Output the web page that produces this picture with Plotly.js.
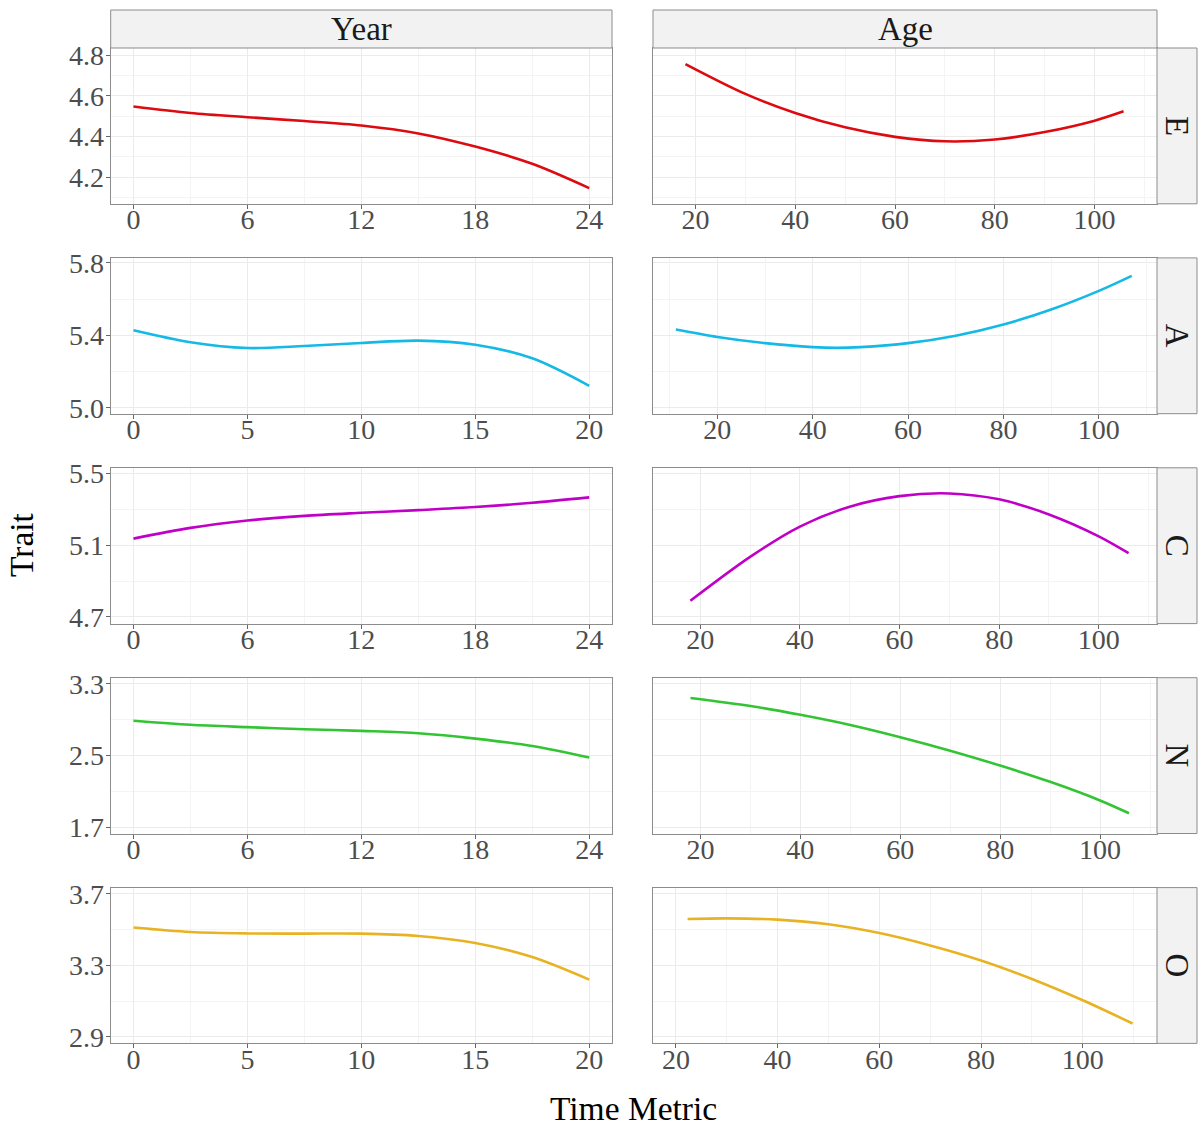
<!DOCTYPE html>
<html>
<head>
<meta charset="utf-8">
<script src="https://cdn.plot.ly/plotly-3.0.1.min.js"></script>
<style>
  html, body { margin: 0; padding: 0; background: #fff; }
  #chart { width: 1200px; height: 1133px; }
</style>
</head>
<body>
<div id="chart"></div>
<script>
// traits in row order, one row per trait
var traits = ["E", "A", "C", "N", "O"];
var columns = ["Year", "Age"];
var colors = ["#dd0a10", "#14b9e6", "#c000c8", "#33c433", "#e8b322"];

// Year column
var yearE_x = [0, 3, 6, 9, 12, 15, 18, 21, 24];
var yearE_y = [4.548, 4.516, 4.495, 4.476, 4.454, 4.415, 4.350, 4.265, 4.145];
var yearA_x = [0, 2.5, 5, 7.5, 10, 12.5, 15, 17.5, 20];
var yearA_y = [5.428, 5.362, 5.330, 5.341, 5.358, 5.371, 5.348, 5.273, 5.121];
var yearC_x = [0, 3, 6, 9, 12, 15, 18, 21, 24];
var yearC_y = [5.137, 5.197, 5.238, 5.264, 5.281, 5.296, 5.313, 5.337, 5.367];
var yearN_x = [0, 3, 6, 9, 12, 15, 18, 21, 24];
var yearN_y = [2.888, 2.843, 2.817, 2.794, 2.775, 2.749, 2.689, 2.607, 2.479];
var yearO_x = [0, 2.5, 5, 7.5, 10, 12.5, 15, 17.5, 20];
var yearO_y = [3.511, 3.486, 3.478, 3.477, 3.477, 3.464, 3.425, 3.346, 3.220];

// Age column
var ageE_x = [18, 30, 40, 50, 60, 70, 80, 90, 100, 105.8];
var ageE_y = [4.757, 4.610, 4.516, 4.445, 4.398, 4.376, 4.385, 4.422, 4.478, 4.524];
var ageA_x = [11.3, 20, 30, 40, 45, 50, 60, 70, 80, 90, 100, 106.9];
var ageA_y = [5.432, 5.391, 5.357, 5.335, 5.331, 5.335, 5.357, 5.398, 5.460, 5.543, 5.646, 5.729];
var ageC_x = [18, 30, 40, 50, 60, 70, 80, 90, 100, 106];
var ageC_y = [4.790, 5.035, 5.204, 5.315, 5.374, 5.389, 5.356, 5.272, 5.150, 5.056];
var ageN_x = [18, 30, 40, 50, 60, 70, 80, 90, 100, 105.8];
var ageN_y = [3.142, 3.052, 2.954, 2.841, 2.705, 2.555, 2.389, 2.208, 2.001, 1.858];
var ageO_x = [22.3, 30, 40, 50, 60, 70, 80, 90, 100, 109.8];
var ageO_y = [3.559, 3.562, 3.555, 3.529, 3.480, 3.411, 3.327, 3.224, 3.105, 2.975];

var yearX = [yearE_x, yearA_x, yearC_x, yearN_x, yearO_x];
var yearY = [yearE_y, yearA_y, yearC_y, yearN_y, yearO_y];
var ageX = [ageE_x, ageA_x, ageC_x, ageN_x, ageO_x];
var ageY = [ageE_y, ageA_y, ageC_y, ageN_y, ageO_y];

// axis settings per row
var yRanges = [[4.068, 4.836], [4.967, 5.828], [4.663, 5.532], [1.633, 3.367], [2.864, 3.734]];
var yTick0 = [4.2, 5.0, 4.7, 1.7, 2.9];
var yDtick = [0.2, 0.4, 0.4, 0.8, 0.4];
var yearRanges = [[-1.2, 25.2], [-1, 21], [-1.2, 25.2], [-1.2, 25.2], [-1, 21]];
var yearDtick = [6, 5, 6, 6, 5];
var ageRanges = [[11.5, 112.5], [6.5, 112.2], [10.5, 111.7], [10.5, 111.4], [15.5, 114.6]];

var W = 1200, H = 1133;
var colPx = [[110.7, 612], [653, 1157]];
function rowPx(i) { var t = 48 + i * 209.9; return [t, t + 155.8]; }

var serif = "Liberation Serif, Times New Roman, serif";
var gridMajor = "#ebebeb", gridMinor = "#f4f4f4", border = "#8c8c8c";
var tickFont = { family: serif, size: 28, color: "#4d4d4d" };

var data = [];
var layout = {
  width: W, height: H,
  margin: { l: 0, r: 0, t: 0, b: 0 },
  paper_bgcolor: "#fff", plot_bgcolor: "#fff",
  showlegend: false,
  shapes: [], annotations: []
};

function baseAxis() {
  return {
    showline: true, mirror: true, linecolor: border, linewidth: 1,
    showgrid: true, gridcolor: gridMajor, gridwidth: 1,
    zeroline: false, ticks: "outside", ticklen: 4, tickcolor: "#666",
    tickfont: tickFont, fixedrange: true
  };
}

for (var i = 0; i < traits.length; i++) {
  var rp = rowPx(i);
  var yd = [1 - rp[1] / H, 1 - rp[0] / H];
  for (var c = 0; c < 2; c++) {
    var n = i * 2 + c + 1;
    var xs = c === 0 ? yearX[i] : ageX[i];
    var ys = c === 0 ? yearY[i] : ageY[i];
    data.push({
      type: "scatter", mode: "lines", x: xs, y: ys,
      xaxis: "x" + n, yaxis: "y" + n,
      line: { color: colors[i], width: 2.6, shape: "spline", smoothing: 0.9 },
      hoverinfo: "x+y"
    });

    var xa = baseAxis();
    xa.domain = [colPx[c][0] / W, colPx[c][1] / W];
    xa.anchor = "y" + n;
    xa.ticklabelstandoff = -13;
    if (c === 0) {
      xa.range = yearRanges[i];
      xa.tick0 = 0; xa.dtick = yearDtick[i];
      xa.minor = { tick0: 0, dtick: yearDtick[i] / 2, showgrid: true, gridcolor: gridMinor, ticks: "" };
    } else {
      xa.range = ageRanges[i];
      xa.tick0 = 0; xa.dtick = 20;
      xa.minor = { tick0: 0, dtick: 10, showgrid: true, gridcolor: gridMinor, ticks: "" };
    }

    var ya = baseAxis();
    ya.domain = yd;
    ya.anchor = "x" + n;
    ya.range = yRanges[i];
    ya.tick0 = yTick0[i]; ya.dtick = yDtick[i];
    ya.tickformat = ".1f";
    ya.ticklabelstandoff = -4;
    ya.minor = { tick0: yTick0[i], dtick: yDtick[i] / 2, showgrid: true, gridcolor: gridMinor, ticks: "" };
    if (c === 1) { ya.showticklabels = false; ya.ticks = ""; }

    layout["xaxis" + n] = xa;
    layout["yaxis" + n] = ya;
  }

  // right strip with trait letter
  layout.shapes.push({
    type: "rect", xref: "paper", yref: "paper", layer: "above",
    x0: 1157 / W, x1: 1197 / W, y0: yd[0], y1: yd[1],
    fillcolor: "#f2f2f2", line: { color: border, width: 1 }
  });
  layout.annotations.push({
    xref: "paper", yref: "paper", x: 1177 / W, y: (yd[0] + yd[1]) / 2,
    text: traits[i], showarrow: false, textangle: 90,
    xanchor: "center", yanchor: "middle",
    font: { family: serif, size: 33, color: "#1a1a1a" }
  });
}

// top strips
for (var c = 0; c < 2; c++) {
  layout.shapes.push({
    type: "rect", xref: "paper", yref: "paper", layer: "above",
    x0: colPx[c][0] / W, x1: colPx[c][1] / W, y0: 1 - 48 / H, y1: 1 - 10 / H,
    fillcolor: "#f2f2f2", line: { color: border, width: 1 }
  });
  layout.annotations.push({
    xref: "paper", yref: "paper", x: (colPx[c][0] + colPx[c][1]) / 2 / W, y: 1 - 29 / H,
    text: columns[c], showarrow: false, xanchor: "center", yanchor: "middle",
    font: { family: serif, size: 33, color: "#1a1a1a" }
  });
}

// axis titles
layout.annotations.push({
  xref: "paper", yref: "paper", x: 633 / W, y: 1 - 1108 / H,
  text: "Time Metric", showarrow: false, xanchor: "center", yanchor: "middle",
  font: { family: serif, size: 33.5, color: "#000" }
});
layout.annotations.push({
  xref: "paper", yref: "paper", x: 22 / W, y: 1 - 545 / H,
  text: "Trait", showarrow: false, textangle: -90, xanchor: "center", yanchor: "middle",
  font: { family: serif, size: 33.5, color: "#000" }
});

Plotly.newPlot("chart", data, layout, { displayModeBar: false, staticPlot: true });
</script>
</body>
</html>
